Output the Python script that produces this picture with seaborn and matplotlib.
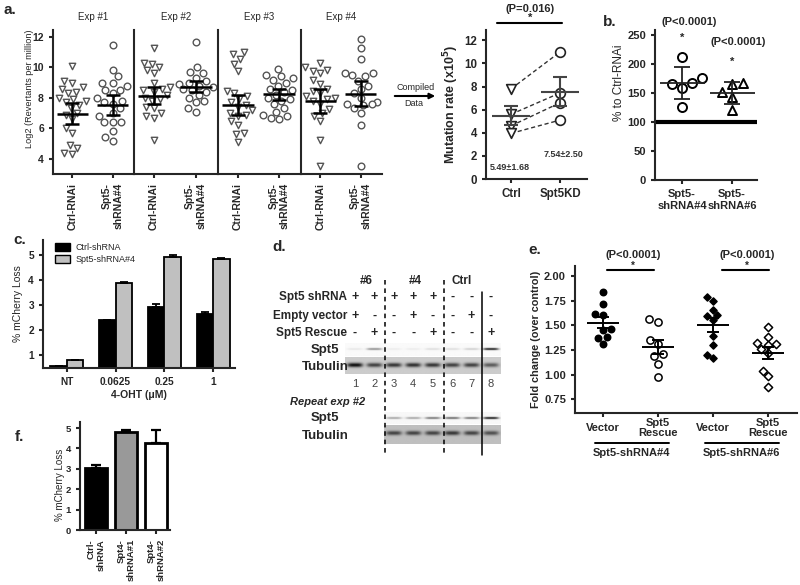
import numpy as np
import pandas as pd
import matplotlib
matplotlib.use('Agg')
import matplotlib.pyplot as plt
import seaborn as sns
from matplotlib.lines import Line2D
from matplotlib.patches import Patch

# ---------------- data ----------------
# a. revertants per experiment (log2)
exp_titles = ['Exp #1', 'Exp #2', 'Exp #3', 'Exp #4']
a_groups = ['Ctrl-RNAi', 'Spt5-\nshRNA#4']
a_ctrl = [
    [10.1, 9.1, 9.0, 8.7, 8.6, 8.4, 8.3, 8.0, 7.9, 7.8, 7.7, 7.5, 7.3, 7.0, 6.9, 6.6, 6.0, 5.7, 4.9, 4.7, 4.4, 4.3],
    [11.25, 10.3, 10.2, 10.0, 9.8, 9.6, 9.0, 8.7, 8.6, 8.5, 8.4, 8.2, 8.0, 7.9, 7.8, 7.4, 7.3, 7.0, 6.8, 6.7, 5.2],
    [11.0, 10.85, 10.55, 10.2, 9.75, 8.45, 8.3, 8.1, 7.9, 7.7, 7.5, 7.4, 7.2, 7.0, 6.9, 6.8, 6.5, 6.2, 5.7, 5.6, 5.1],
    [10.3, 10.0, 9.85, 9.75, 9.6, 9.15, 8.9, 8.6, 8.45, 8.3, 8.1, 8.0, 7.9, 7.8, 7.6, 7.25, 7.0, 6.8, 6.5, 5.2, 3.5],
]
a_kd = [
    [11.45, 9.85, 9.4, 9.0, 9.0, 8.8, 8.5, 8.5, 8.3, 8.0, 7.8, 7.7, 7.6, 7.3, 7.0, 6.8, 6.4, 6.4, 6.4, 5.8, 5.4, 5.15],
    [11.65, 10.0, 9.7, 9.6, 9.3, 9.1, 9.0, 8.9, 8.8, 8.7, 8.6, 8.5, 8.4, 8.2, 8.0, 7.8, 7.7, 7.3, 7.1],
    [9.9, 9.5, 9.4, 9.3, 9.2, 9.0, 8.8, 8.6, 8.5, 8.4, 8.2, 8.0, 7.9, 7.8, 7.6, 7.3, 7.1, 6.9, 6.8, 6.7, 6.6],
    [11.85, 11.25, 10.55, 9.65, 9.6, 9.5, 9.4, 9.1, 8.8, 8.6, 8.3, 8.0, 7.7, 7.6, 7.6, 7.5, 7.3, 7.0, 6.2, 3.5],
]
a_ctrl_mean = [6.95, 8.15, 7.55, 7.78]
a_ctrl_err = [0.70, 0.58, 0.65, 0.78]
a_kd_mean = [7.52, 8.72, 8.23, 8.27]
a_kd_err = [0.64, 0.36, 0.36, 0.84]

# compiled mutation rate (x10^5)
mr_groups = ['Ctrl', 'Spt5KD']
mr_ctrl = [7.8, 5.6, 4.6, 3.95]
mr_kd = [11.0, 7.45, 6.6, 5.1]

# b. % to Ctrl-RNAi
b_groups = ['Spt5-\nshRNA#4', 'Spt5-\nshRNA#6']
b_sh4 = [212, 168, 166, 175, 158, 125]
b_sh6 = [168, 166, 152, 143, 120]

# c. mCherry loss vs 4-OHT
c_conc = ['NT', '0.0625', '0.25', '1']
c_series = ['Ctrl-shRNA', 'Spt5-shRNA#4']
c_ctrl = [0.58, 2.42, 2.95, 2.67]
c_ctrl_err = [0.0, 0.0, 0.10, 0.08]
c_kd = [0.82, 3.90, 4.92, 4.85]
c_kd_err = [0.0, 0.03, 0.08, 0.03]

# d. western blot (band strength per lane, 0-1)
lanes = [1, 2, 3, 4, 5, 6, 7, 8]
row_shrna = ['+', '+', '+', '+', '+', '-', '-', '-']
row_empty = ['+', '-', '-', '+', '-', '-', '+', '-']
row_rescue = ['-', '+', '-', '-', '+', '-', '-', '+']
blot1_spt5 = [0.08, 0.45, 0.06, 0.06, 0.12, 0.12, 0.18, 0.95]
blot1_tub = [0.75, 0.55, 0.6, 0.62, 0.6, 0.55, 0.55, 0.45]
blot2_lanes = [3, 4, 5, 6, 7, 8]
blot2_spt5 = [0.35, 0.35, 0.55, 0.6, 0.55, 0.95]
blot2_tub = [0.5, 0.5, 0.5, 0.55, 0.5, 0.45]

# e. fold change over control
e_keys = ['v4', 'r4', 'v6', 'r6']
e_ticklabels = ['Vector', 'Spt5\nRescue', 'Vector', 'Spt5\nRescue']
e_v4 = [1.84, 1.71, 1.61, 1.60, 1.46, 1.45, 1.38, 1.37, 1.31]
e_r4 = [1.56, 1.53, 1.35, 1.31, 1.21, 1.19, 1.11, 0.97]
e_v6 = [1.79, 1.75, 1.65, 1.60, 1.59, 1.55, 1.39, 1.30, 1.20, 1.17]
e_r6 = [1.48, 1.38, 1.32, 1.31, 1.30, 1.26, 1.22, 1.04, 0.98, 0.87]

# f. mCherry loss, Spt4 knockdown
f_labels = ['Ctrl-\nshRNA', 'Spt4-\nshRNA#1', 'Spt4-\nshRNA#2']
f_vals = [3.02, 4.80, 4.25]
f_err = [0.18, 0.10, 0.68]
f_colors = ['black', '#999999', 'white']

# ---------------- figure setup ----------------
sns.set_style('ticks')
plt.rcParams['font.family'] = ['Liberation Sans', 'DejaVu Sans']
plt.rcParams['axes.linewidth'] = 1.5
plt.rcParams['xtick.major.width'] = 1.5
plt.rcParams['ytick.major.width'] = 1.5
plt.rcParams['xtick.major.size'] = 3
plt.rcParams['ytick.major.size'] = 3

W, H = 800, 585
fig = plt.figure(figsize=(8, 5.85), dpi=100)


def px_axes(x0, y0, x1, y1):
    return fig.add_axes([x0 / W, 1 - y1 / H, (x1 - x0) / W, (y1 - y0) / H])


def ftext(x, y, s, **kw):
    fig.text(x / W, 1 - y / H, s, ha=kw.pop('ha', 'center'), va=kw.pop('va', 'center'), **kw)


def fline(x0, x1, y, lw=1.5):
    fig.add_artist(Line2D([x0 / W, x1 / W], [1 - y / H] * 2, color='black', lw=lw))


def style(ax, size):
    sns.despine(ax=ax)
    ax.tick_params(labelsize=size, direction='out')
    for lbl in ax.get_xticklabels() + ax.get_yticklabels():
        lbl.set_fontweight('bold')


def mean_bar(ax, pos, m, e, half=0.38, cap=5, lw=1.8, color='black'):
    ax.hlines(m, pos - half, pos + half, color=color, lw=lw, zorder=5)
    ax.errorbar(pos, m, yerr=e, fmt='none', ecolor=color, elinewidth=lw,
                capsize=cap, capthick=lw, zorder=5)


# ---------------- a ----------------
a_edges = [53, 134, 218, 301, 382]
for i in range(4):
    ax = px_axes(a_edges[i], 30, a_edges[i + 1], 174)
    sns.swarmplot(x=[a_groups[0]] * len(a_ctrl[i]), y=a_ctrl[i], order=a_groups, marker='v',
                  color='white', edgecolor='#555555', linewidth=1.0, size=4.6, ax=ax)
    sns.swarmplot(x=[a_groups[1]] * len(a_kd[i]), y=a_kd[i], order=a_groups, marker='o',
                  color='white', edgecolor='#555555', linewidth=1.0, size=4.8, ax=ax)
    mean_bar(ax, 0, a_ctrl_mean[i], a_ctrl_err[i])
    mean_bar(ax, 1, a_kd_mean[i], a_kd_err[i])
    ax.set_xlim(-0.48, 1.53)
    ax.set_ylim(3, 12.45)
    ax.set_yticks([4, 6, 8, 10, 12])
    ax.set_xticks([0, 1])
    ax.set_xticklabels(a_groups, rotation=90, va='top', ha='center', multialignment='right')
    ax.set_title(exp_titles[i], fontsize=7, pad=7)
    style(ax, 7.5)
    if i == 0:
        ax.set_ylabel('Log2 (Revertants per million)', fontsize=6.6)
        ax.yaxis.set_label_coords(-0.24, 0.59)
    else:
        ax.tick_params(axis='y', left=False, labelleft=False)

ftext(10, 10, 'a.', fontsize=11, fontweight='bold')
ftext(416, 87, 'Compiled', fontsize=6.5)
ftext(414, 104, 'Data', fontsize=6.5)
fig.add_artist(matplotlib.patches.FancyArrowPatch(
    (392 / W, 1 - 96 / H), (438 / W, 1 - 96 / H), transform=fig.transFigure,
    arrowstyle='-|>', mutation_scale=8, lw=1.5, color='black'))

# compiled mutation rate
ax = px_axes(486, 30, 587, 179)
sns.stripplot(x=[mr_groups[0]] * 4, y=mr_ctrl, order=mr_groups, jitter=False, marker='v',
              color='white', edgecolor='#222222', linewidth=1.2, size=7, ax=ax, zorder=3)
sns.stripplot(x=[mr_groups[1]] * 4, y=mr_kd, order=mr_groups, jitter=False, marker='o',
              color='white', edgecolor='#222222', linewidth=1.2, size=7, ax=ax, zorder=3)
for c, k in zip(mr_ctrl, mr_kd):
    ax.plot([0, 1], [c, k], ls='--', color='#333333', lw=1, dashes=(3, 2), zorder=2)
for pos, vals in ((0, mr_ctrl), (1, mr_kd)):
    v = np.array(vals)
    mean_bar(ax, pos, v.mean(), v.std(ddof=1) / np.sqrt(len(v)), half=0.38, cap=5,
             lw=1.5, color='#444444')
ax.set_xlim(-0.51, 1.55)
ax.set_ylim(0, 12.9)
ax.set_yticks(range(0, 13, 2))
ax.set_xticks([0, 1])
ax.set_xticklabels(mr_groups)
ax.set_ylabel('Mutation rate (x10$^\\mathbf{5}$)', fontsize=9, fontweight='bold', labelpad=2)
style(ax, 8.3)
mc, mk = np.array(mr_ctrl), np.array(mr_kd)
ftext(510, 168, f'{mc.mean():.2f}\u00b1{mc.std(ddof=1):.2f}', fontsize=6.5, fontweight='bold', color='#333333')
ftext(564, 155, f'{mk.mean():.2f}\u00b1{mk.std(ddof=1):.2f}', fontsize=6.5, fontweight='bold', color='#333333')
ftext(530, 9, '(P=0.016)', fontsize=8, fontweight='bold')
fline(497, 562, 23)
ftext(530, 18, '*', fontsize=8, fontweight='bold')

# ---------------- b ----------------
ax = px_axes(655, 30, 757, 180)
ax.axhline(100, color='black', lw=3, zorder=1)
sns.swarmplot(x=[b_groups[0]] * len(b_sh4), y=b_sh4, order=b_groups, marker='o',
              color='white', edgecolor='black', linewidth=1.4, size=6.5, ax=ax, zorder=3)
sns.swarmplot(x=[b_groups[1]] * len(b_sh6), y=b_sh6, order=b_groups, marker='^',
              color='white', edgecolor='black', linewidth=1.4, size=6.5, ax=ax, zorder=3)
for pos, vals in ((0, b_sh4), (1, b_sh6)):
    v = np.array(vals)
    mean_bar(ax, pos, v.mean(), v.std(ddof=1), half=0.45, cap=6, lw=1.3, color='#222222')
ax.set_xlim(-0.54, 1.5)
ax.set_ylim(0, 258.6)
ax.set_yticks(range(0, 251, 50))
ax.set_xticks([0, 1])
ax.set_xticklabels(b_groups)
ax.set_ylabel('% to Ctrl-RNAi', fontsize=8.5)
ax.yaxis.set_label_coords(-0.29, 0.65)
style(ax, 8)
ftext(610, 22, 'b.', fontsize=11, fontweight='bold')
ftext(689, 22, '(P<0.0001)', fontsize=8, fontweight='bold')
ftext(682, 38, '*', fontsize=8, fontweight='bold')
ftext(738, 42, '(P<0.0001)', fontsize=8, fontweight='bold')
ftext(732, 62, '*', fontsize=8, fontweight='bold')

# ---------------- c ----------------
ax = px_axes(43, 240, 235, 368)
c_df = pd.DataFrame({
    'conc': c_conc * 2,
    'series': [c_series[0]] * 4 + [c_series[1]] * 4,
    'val': c_ctrl + c_kd,
})
sns.barplot(data=c_df, x='conc', y='val', hue='series', order=c_conc, hue_order=c_series,
            palette=['black', '#c0c0c0'], edgecolor='black', linewidth=1.3, width=0.68,
            gap=0, errorbar=None, ax=ax, legend=False)
for cont, errs in zip(ax.containers, (c_ctrl_err, c_kd_err)):
    xs = [p.get_x() + p.get_width() / 2 for p in cont]
    hs = [p.get_height() for p in cont]
    ax.errorbar(xs, hs, yerr=[[0] * len(errs), errs], fmt='none', ecolor='black',
                elinewidth=1.3, capsize=3, capthick=1.3)
ax.set_xlim(-0.49, 3.45)
ax.set_ylim(0.5, 5.6)
ax.set_yticks([1, 2, 3, 4, 5])
ax.set_xlabel('4-OHT (\u03bcM)', fontsize=7.5, fontweight='bold', labelpad=2)
ax.set_ylabel('% mCherry Loss', fontsize=7.5, labelpad=4)
style(ax, 7.3)
ax.legend(handles=[Patch(facecolor='black', edgecolor='black', label=c_series[0]),
                   Patch(facecolor='#c0c0c0', edgecolor='black', label=c_series[1])],
          loc='upper left', bbox_to_anchor=(0.02, 1.04), frameon=False, fontsize=6.5,
          handlelength=1.7, handleheight=0.9, labelspacing=0.35, handletextpad=0.6)
ftext(20, 240, 'c.', fontsize=11, fontweight='bold')

# ---------------- d (blot) ----------------
ax = px_axes(240, 270, 505, 460)
ax.set_xlim(-4.92, 8.72)
ax.set_ylim(460, 270)
ax.axis('off')


def blot(levels, lane_pos, x0, x1, y0, y1, yc, sig_y, bg):
    xg = np.linspace(x0, x1, 240)
    yg = np.linspace(y0, y1, 40)
    img = np.full((len(yg), len(xg)), bg)
    for lv, lp in zip(levels, lane_pos):
        bx = np.exp(-((xg - lp) / 0.4) ** 4)
        by = np.exp(-((yg - yc) / sig_y) ** 2)
        img = img + lv * np.outer(by, bx)
    ax.imshow(np.clip(img, 0, 1), cmap='gray_r', vmin=0, vmax=1, aspect='auto',
              extent=[x0, x1, y1, y0], interpolation='bilinear')


blot(blot1_spt5, lanes, 0.5, 8.5, 343, 356, 349, 1.0, 0.02)
blot(blot1_tub, lanes, 0.5, 8.5, 357, 374, 365, 2.2, 0.2)
blot(blot2_spt5, blot2_lanes, 2.5, 8.5, 412, 424, 418, 1.0, 0.03)
blot(blot2_tub, blot2_lanes, 2.5, 8.5, 425, 444, 433, 2.2, 0.25)
ax.set_xlim(-4.92, 8.72)
ax.set_ylim(460, 270)

for x in (2.55, 5.6):
    ax.plot([x, x], [280, 455], ls='--', color='black', lw=1.1, dashes=(3, 2.5))
ax.plot([7.55, 7.55], [292, 455], color='black', lw=1.1)

for lab, yy in (('Spt5 shRNA', 297), ('Empty vector', 316), ('Spt5 Rescue', 333)):
    ax.text(0.6, yy, lab, ha='right', va='center', fontsize=8.5, fontweight='bold')
for signs, yy in ((row_shrna, 297), (row_empty, 316), (row_rescue, 333)):
    for ln, s in zip(lanes, signs):
        ax.text(ln, yy, s, ha='center', va='center', fontsize=9, fontweight='bold')
for lab, yy in (('Spt5', 350), ('Tubulin', 367), ('Spt5', 418), ('Tubulin', 436)):
    ax.text(-0.55, yy, lab, ha='center', va='center', fontsize=9.5, fontweight='bold')
for ln in lanes:
    ax.text(ln, 384, str(ln), ha='center', va='center', fontsize=8, color='#444444')
ax.text(-0.4, 402, 'Repeat exp #2', ha='center', va='center', fontsize=8,
        fontweight='bold', fontstyle='italic')
for lab, xx in (('#6', 1.57), ('#4', 4.1), ('Ctrl', 6.5)):
    ax.text(xx, 281, lab, ha='center', va='center', fontsize=8.5, fontweight='bold')
ftext(279, 247, 'd.', fontsize=11, fontweight='bold')

# ---------------- e ----------------
ax = px_axes(575, 266, 797, 413)
e_sets = [e_v4, e_r4, e_v6, e_r6]
e_marks = [('o', 'black', 4.6), ('o', 'white', 5.2), ('D', 'black', 3.6), ('D', 'white', 4.2)]
for key, vals, (mk, col, sz) in zip(e_keys, e_sets, e_marks):
    sns.swarmplot(x=[key] * len(vals), y=vals, order=e_keys, marker=mk, color=col,
                  edgecolor='black', linewidth=1.1, size=sz, ax=ax, zorder=3)
for pos, vals in enumerate(e_sets):
    v = np.array(vals)
    mean_bar(ax, pos, v.mean(), v.std(ddof=1) / np.sqrt(len(v)), half=0.29, cap=4, lw=1.4)
ax.set_xlim(-0.51, 3.53)
ax.set_ylim(0.61, 2.1)
ax.set_yticks([0.75, 1.0, 1.25, 1.5, 1.75, 2.0])
ax.set_yticklabels(['0.75', '1.00', '1.25', '1.50', '1.75', '2.00'])
ax.set_xticks(range(4))
ax.set_xticklabels(e_ticklabels, linespacing=1.0)
ax.set_ylabel('Fold change (over control)', fontsize=7.8, fontweight='bold', labelpad=2)
style(ax, 8)
ax.tick_params(axis='x', pad=7.5)
for lbl in ax.get_xticklabels():
    lbl.set_va('center')
trans = ax.get_xaxis_transform()
for (a0, a1), name in (((0, 1), 'Spt5-shRNA#4'), ((2, 3), 'Spt5-shRNA#6')):
    ax.plot([a0 - 0.15, a1 + 0.2], [-0.204, -0.204], color='black', lw=1.4,
            transform=trans, clip_on=False)
    ax.text((a0 + a1) / 2 + 0.02, -0.27, name, transform=trans, ha='center', va='center',
            fontsize=8, fontweight='bold')
ftext(535, 250, 'e.', fontsize=11, fontweight='bold')
for cx, x0, x1 in ((633, 607, 654), (747, 722, 769)):
    ftext(cx, 255, '(P<0.0001)', fontsize=8, fontweight='bold')
    fline(x0, x1, 270)
    ftext(cx, 266, '*', fontsize=7, fontweight='bold')

# ---------------- f ----------------
ax = px_axes(80, 422, 170, 530)
sns.barplot(x=f_labels, y=f_vals, hue=f_labels, palette=f_colors, edgecolor='black',
            linewidth=2, width=0.73, errorbar=None, legend=False, ax=ax)
ax.errorbar(range(3), f_vals, yerr=[[0] * 3, f_err], fmt='none', ecolor='black',
            elinewidth=1.6, capsize=3.5, capthick=1.6)
ax.set_xlim(-0.53, 2.47)
ax.set_ylim(0, 5.3)
ax.set_yticks(range(6))
ax.set_xticks(range(3))
ax.set_xticklabels(f_labels, rotation=90, va='top', ha='center', multialignment='right')
ax.set_ylabel('% mCherry Loss', fontsize=7)
ax.yaxis.set_label_coords(-0.17, 0.42)
style(ax, 6.8)
ftext(19, 437, 'f.', fontsize=11, fontweight='bold')

fig.savefig('out.png', dpi=100)
